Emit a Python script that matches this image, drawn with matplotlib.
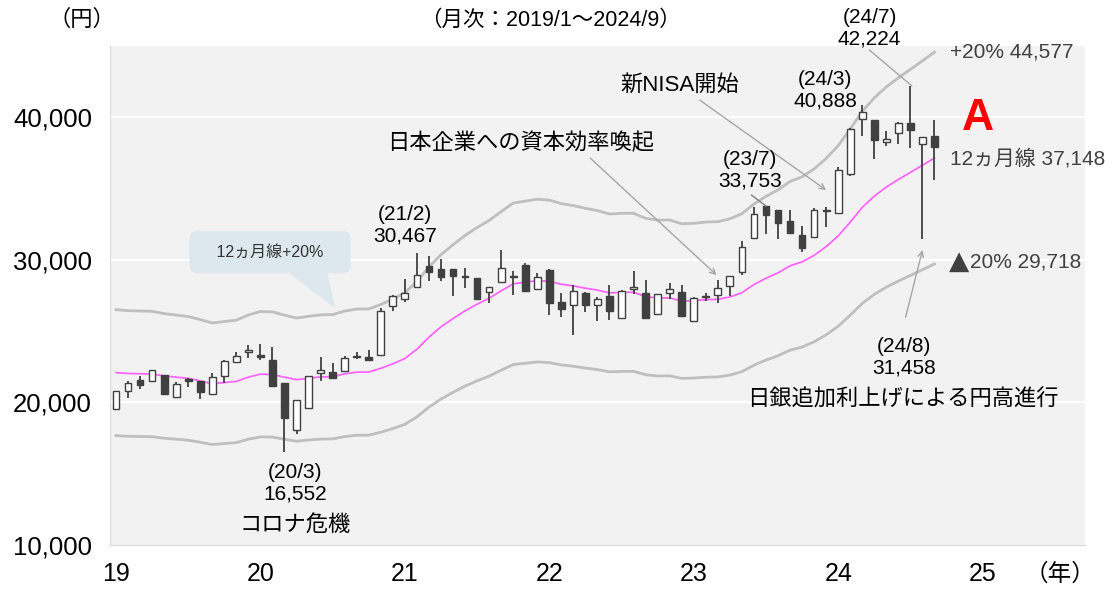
import numpy as np
import matplotlib
matplotlib.use('Agg')
import matplotlib.pyplot as plt
from matplotlib.patches import Polygon
from matplotlib.ticker import FuncFormatter

plt.rcParams['font.family'] = ['Liberation Sans', 'Noto Sans CJK JP', 'DejaVu Sans']

# monthly candles 2019/1 - 2024/9 (high/low taken from daily closes)
opens = [19561, 20788, 21602, 21510, 21923, 20410, 21640, 21540, 20620, 21885, 22850, 23529,
         23300, 22971, 21344, 18065, 19620, 22062, 22121, 22195, 23250, 23185, 23295, 26787,
         27258, 28091, 29560, 29389, 29331, 28814, 28707, 27781, 28451, 28771, 29647, 27935,
         29301, 27078, 26844, 27665, 26818, 27457, 25935, 27993, 27661, 26215, 27678, 27777,
         25716, 27402, 27516, 28188, 29123, 31524, 33753, 33476, 32710, 31759, 31602, 33431,
         33288, 36011, 39910, 39803, 38274, 38923, 39631, 38126, 38700]
highs = [20773, 21528, 21822, 22259, 21923, 21462, 21740, 21540, 22098, 22974, 23520, 24066,
         24083, 23873, 21344, 20194, 21878, 23178, 22770, 23250, 23560, 23672, 26644, 27568,
         28633, 30467, 30300, 30089, 29357, 29441, 28718, 28090, 30670, 29215, 29808, 29066,
         29332, 27696, 28252, 27736, 27369, 28246, 27915, 29222, 28614, 27587, 28383, 28226,
         27433, 27696, 28623, 28856, 31328, 33706, 33753, 33488, 33533, 32401, 33625, 33681,
         36546, 39239, 40888, 39803, 39069, 39667, 42224, 38648, 39829]
lows = [19561, 20315, 20977, 21505, 20601, 20410, 21080, 20261, 20620, 21341, 22850, 23135,
        23000, 21143, 16552, 17819, 19620, 21530, 21710, 22195, 23040, 22977, 23295, 26436,
        27058, 28091, 28500, 28508, 27448, 28010, 27284, 27013, 28451, 27528, 27822, 27928,
        26170, 25971, 24717, 26334, 25748, 25771, 25935, 27619, 25937, 26215, 27227, 26094,
        25716, 27104, 26945, 27472, 28949, 31524, 31791, 31450, 31858, 30526, 31602, 32307,
        33288, 35909, 38695, 37068, 37960, 38102, 37869, 31458, 35619]
closes = [20773, 21385, 21206, 22259, 20601, 21276, 21522, 20704, 21756, 22927, 23294, 23657,
          23205, 21143, 18917, 20194, 21878, 22288, 21710, 23140, 23185, 22977, 26434, 27444,
          27663, 28966, 29179, 28813, 28860, 28792, 27284, 28090, 29453, 28893, 27822, 28792,
          27002, 26527, 27821, 26848, 27280, 26393, 27802, 28092, 25937, 27587, 27969, 26095,
          27327, 27446, 28041, 28856, 30888, 33189, 33172, 32619, 31858, 30859, 33487, 33464,
          36287, 39166, 40369, 38406, 38488, 39583, 39102, 38648, 37920]
# 12 month moving average
ma12 = [22091, 22034, 22014, 21996, 21863, 21777, 21691, 21511, 21314, 21398, 21477, 21780,
        21983, 21963, 21772, 21600, 21706, 21790, 21806, 22009, 22128, 22132, 22394, 22710,
        23081, 23733, 24588, 25306, 25888, 26430, 26895, 27307, 27830, 28323, 28438, 28551,
        28496, 28292, 28179, 28015, 27884, 27684, 27727, 27727, 27434, 27325, 27338, 27113,
        27140, 27216, 27235, 27402, 27703, 28269, 28717, 29094, 29587, 29860, 30320, 30934,
        31681, 32657, 33685, 34480, 35114, 35647, 36141, 36643, 37148]
year_labels = ['19', '20', '21', '22', '23', '24', '25']

o = np.array(opens); h = np.array(highs); l = np.array(lows); c = np.array(closes)
ma = np.array(ma12)
x = np.arange(len(c))

fig = plt.figure(figsize=(11.13, 5.89), dpi=100)
ax = fig.add_axes([0.0988, 0.0747, 0.876, 0.847])
ax.set_facecolor('#f2f2f2')

ax.set_xlim(-0.5, 80.5)
ax.set_ylim(10000, 45000)

for v in [20000, 30000, 40000]:
    ax.axhline(v, color='white', lw=1.5, zorder=1)

# bands and MA
ax.plot(x, ma * 1.2, color='#bfbfbf', lw=2, zorder=2)
ax.plot(x, ma * 0.8, color='#bfbfbf', lw=2, zorder=2)
ax.plot(x, ma, color='#ff66ff', lw=1.3, zorder=2)

# candles
dark = '#404040'
up = c >= o
ax.vlines(x, l, h, color=dark, lw=1.3, zorder=3)
bottoms = np.minimum(o, c)
heights = np.maximum(np.abs(c - o), 60)
ax.bar(x[up], heights[up], bottom=bottoms[up], width=0.56, color='white',
       edgecolor=dark, lw=1, zorder=4)
ax.bar(x[~up], heights[~up], bottom=bottoms[~up], width=0.56, color=dark,
       edgecolor=dark, lw=1, zorder=4)

# axes styling
for s in ['top', 'right']:
    ax.spines[s].set_visible(False)
for s in ['left', 'bottom']:
    ax.spines[s].set_color('#d9d9d9')
ax.set_yticks([10000, 20000, 30000, 40000])
ax.yaxis.set_major_formatter(FuncFormatter(lambda v, p: '{:,.0f}'.format(v)))
ax.set_xticks(np.arange(0, 73, 12))
ax.set_xticklabels(year_labels)
ax.tick_params(axis='y', length=0, labelsize=18.5, pad=13)
ax.tick_params(axis='x', length=0, labelsize=18, pad=12)

fig.text(0.074, 0.966, '（円）', fontsize=16, ha='center', va='center')
fig.text(0.495, 0.966, '（月次：2019/1～2024/9）', fontsize=15.5, ha='center', va='center')
fig.text(0.952, 0.024, '（年）', fontsize=17, ha='center', va='center')

txt = dict(fontsize=15, ha='center', va='center', linespacing=1.15, zorder=6)
jp = dict(fontsize=16, ha='center', va='center', zorder=6)
ax.text(24.0, 32445, '(21/2)\n30,467', **txt)
ax.text(14.9, 14350, '(20/3)\n16,552', **txt)
ax.text(14.9, 11400, 'コロナ危機', **jp)
ax.text(52.7, 36303, '(23/7)\n33,753', **txt)
ax.text(58.9, 41914, '(24/3)\n40,888', **txt)
ax.text(62.6, 46262, '(24/7)\n42,224', clip_on=False, **txt)
ax.text(65.5, 23186, '(24/8)\n31,458', **txt)
ax.text(65.4, 20170, '日銀追加利上げによる円高進行', **jp)
ax.text(33.6, 38196, '日本企業への資本効率喚起', **jp)
ax.text(46.8, 42264, '新NISA開始', **jp)

side = dict(fontsize=15, ha='left', va='center', color='#404040')
ax.text(69.3, 44579, '+20% 44,577', **side)
ax.text(69.3, 37144, '12ヵ月線 37,148', **side)
ax.text(69.2, 29850, '▲', fontsize=19, family='DejaVu Sans', ha='left', va='center',
        color='#404040')
ax.text(70.95, 29850, '20% 29,718', **side)
ax.text(71.6, 39950, 'A', fontsize=32, fontweight='bold', color='#ff0000',
        ha='center', va='center')

# callout box
box_c = '#dde7ee'
ax.add_patch(Polygon([(14.0, 29300), (17.5, 29300), (18.2, 26623)], closed=True,
                     fc=box_c, ec='none', zorder=5))
ax.text(12.8, 30551, '   12ヵ月線+20%   ', fontsize=11.5, ha='center', va='center',
        color='#333333', zorder=6,
        bbox=dict(boxstyle='round,pad=0.85,rounding_size=0.5', fc=box_c, ec='none'))

# pointer lines
arr = dict(arrowstyle='->', color='#a6a6a6', lw=1, shrinkA=0, shrinkB=0)
ax.annotate('', xy=(49.9, 28938), xytext=(39.4, 37144), arrowprops=arr)
ax.annotate('', xy=(59.0, 34900), xytext=(48.5, 41212), arrowprops=arr)
ax.annotate('', xy=(67.0, 30692), xytext=(65.6, 25992), arrowprops=arr)
ax.plot([52.8, 54.0], [34548, 33777], color='#808080', lw=1, zorder=5)
ax.plot([62.6, 66.1], [44720, 42224], color='#a6a6a6', lw=1, zorder=5, clip_on=False)

fig.savefig('out.png', dpi=100)
